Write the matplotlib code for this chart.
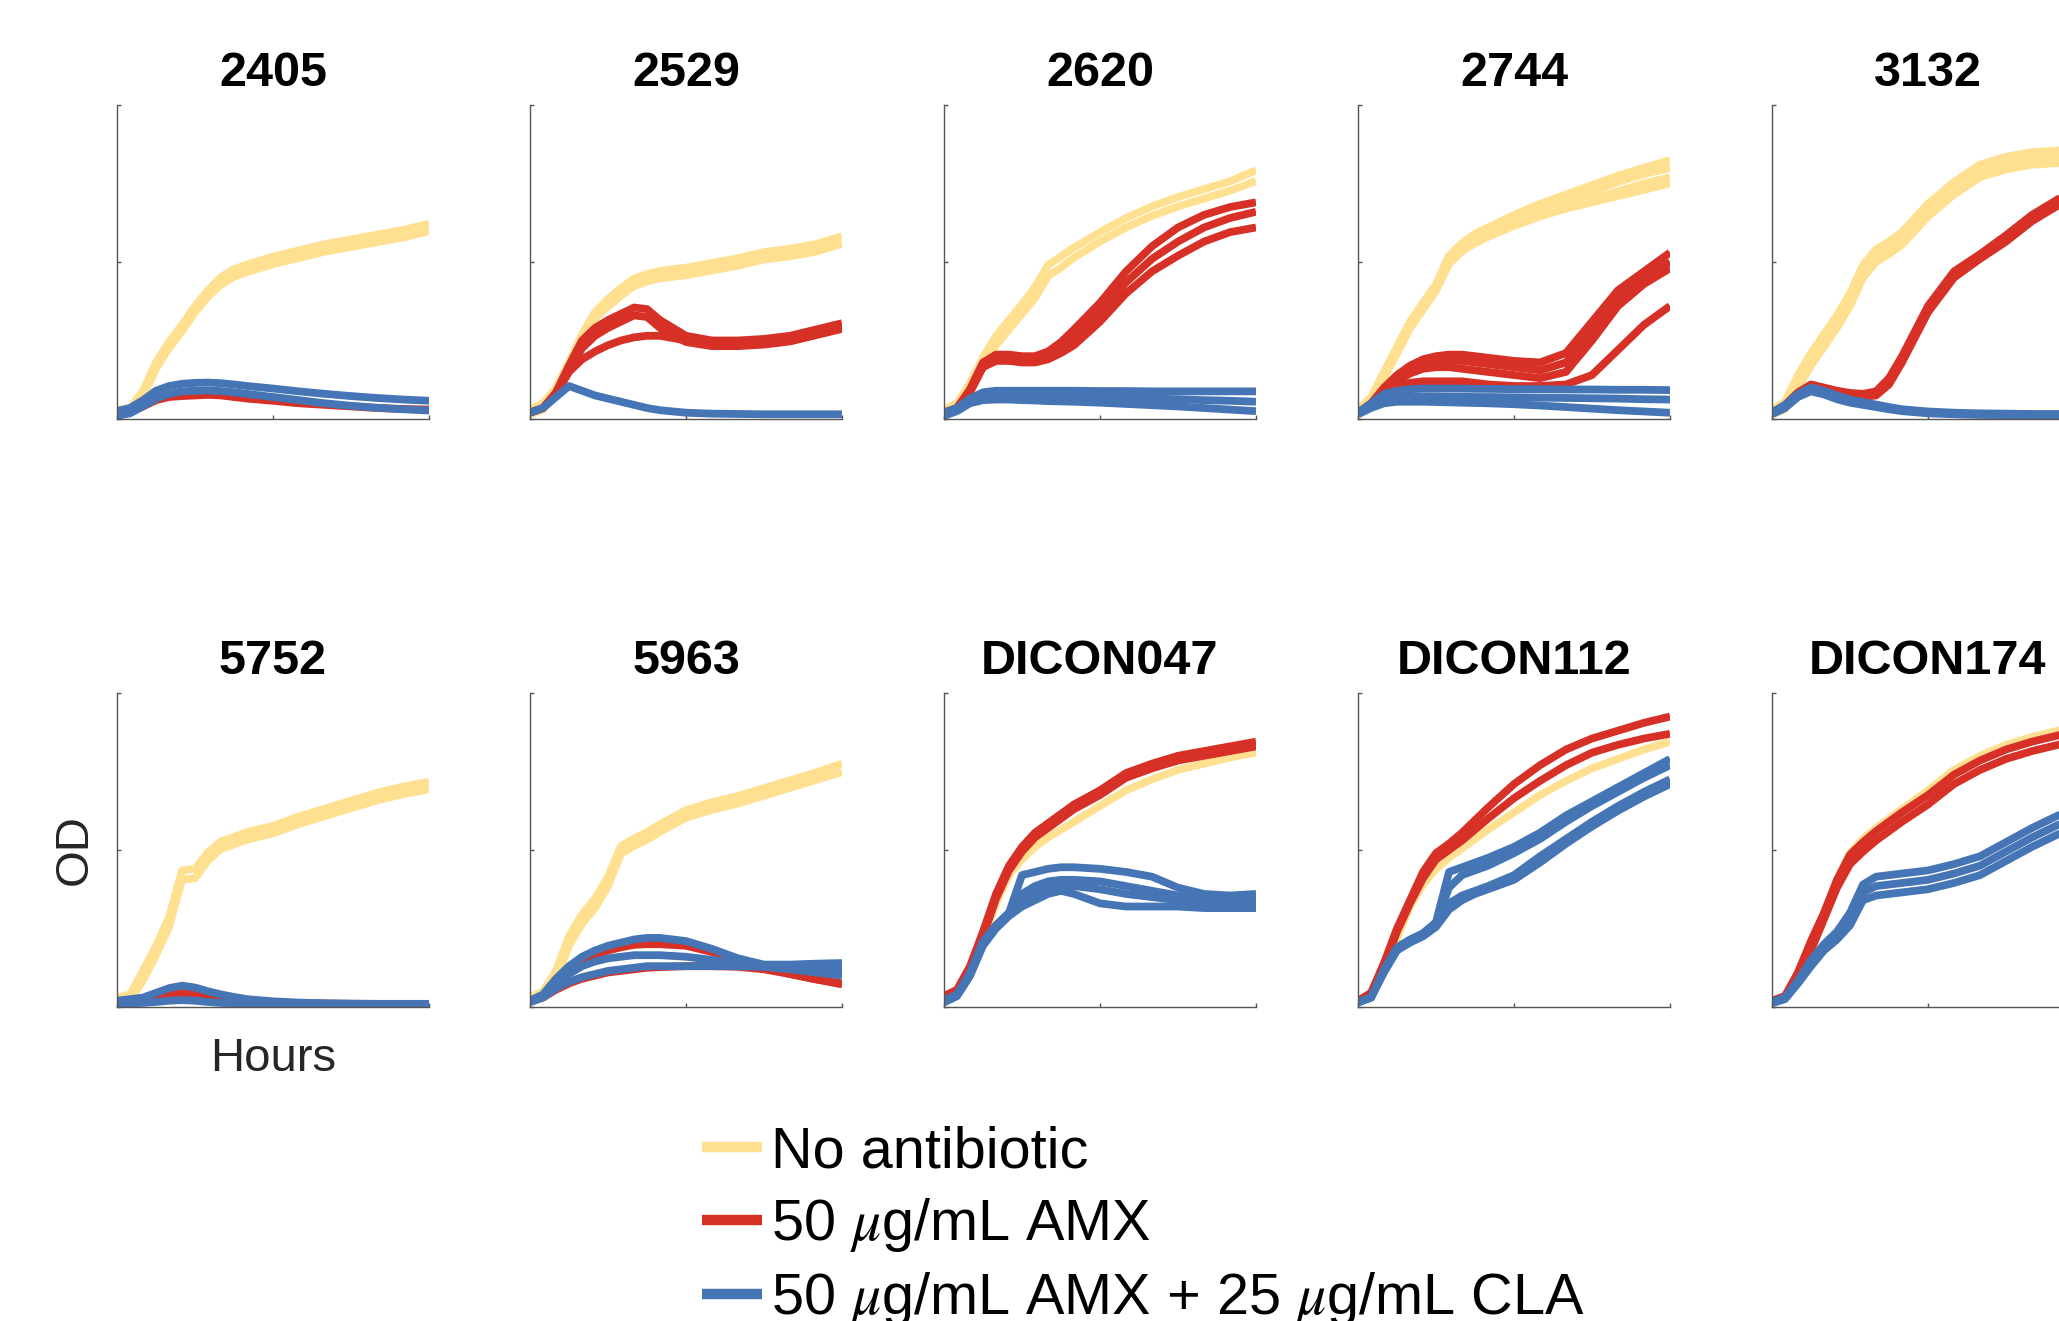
import matplotlib
matplotlib.use("Agg")
import matplotlib.pyplot as plt
from matplotlib.lines import Line2D

plt.rcParams['font.family'] = ['Liberation Sans', 'DejaVu Sans']
plt.rcParams['mathtext.fontset'] = 'stix'

# time points (hours) shared by every replicate curve
hours = [0, 1, 2, 3, 4, 5, 6, 7, 8, 9, 10, 12, 14, 16, 18, 20, 22, 24]

# --- 2405 ---
s2405_none = [[0.03, 0.035, 0.09, 0.18, 0.245, 0.30, 0.36, 0.41, 0.452, 0.477, 0.492, 0.517, 0.537, 0.557, 0.572, 0.587, 0.602, 0.622],
              [0.015, 0.02, 0.07, 0.16, 0.225, 0.28, 0.34, 0.39, 0.428, 0.453, 0.468, 0.493, 0.513, 0.533, 0.548, 0.563, 0.578, 0.598]]
s2405_amx = [[0.02, 0.025, 0.04, 0.06, 0.07, 0.073, 0.075, 0.077, 0.075, 0.07, 0.065, 0.058, 0.05, 0.045, 0.04, 0.035, 0.032, 0.03]]
s2405_cla = [[0.025, 0.035, 0.06, 0.09, 0.105, 0.112, 0.115, 0.116, 0.114, 0.11, 0.105, 0.097, 0.088, 0.08, 0.073, 0.067, 0.062, 0.058],
             [0.01, 0.018, 0.04, 0.065, 0.08, 0.088, 0.09, 0.091, 0.089, 0.085, 0.08, 0.07, 0.06, 0.05, 0.042, 0.036, 0.031, 0.027]]

# --- 2529 ---
s2529_none = [[0.03, 0.05, 0.10, 0.18, 0.27, 0.34, 0.382, 0.417, 0.447, 0.462, 0.472, 0.482, 0.497, 0.512, 0.532, 0.542, 0.557, 0.582],
              [0.015, 0.03, 0.08, 0.16, 0.25, 0.32, 0.358, 0.393, 0.423, 0.438, 0.448, 0.458, 0.473, 0.488, 0.508, 0.518, 0.533, 0.558]]
s2529_amx = [[0.02, 0.035, 0.085, 0.17, 0.25, 0.29, 0.315, 0.335, 0.355, 0.35, 0.315, 0.265, 0.25, 0.25, 0.255, 0.265, 0.285, 0.305],
             [0.02, 0.035, 0.08, 0.155, 0.225, 0.265, 0.29, 0.31, 0.33, 0.325, 0.29, 0.245, 0.232, 0.232, 0.237, 0.247, 0.267, 0.287],
             [0.02, 0.035, 0.08, 0.15, 0.19, 0.215, 0.235, 0.25, 0.26, 0.265, 0.265, 0.25, 0.24, 0.24, 0.245, 0.255, 0.27, 0.29]]
s2529_cla = [[0.02, 0.035, 0.07, 0.105, 0.09, 0.075, 0.065, 0.055, 0.045, 0.035, 0.028, 0.02, 0.017, 0.016, 0.015, 0.015, 0.015, 0.015]]

# --- 2620 ---
s2620_none = [[0.03, 0.05, 0.115, 0.195, 0.265, 0.315, 0.365, 0.42, 0.49, 0.518, 0.546, 0.595, 0.64, 0.677, 0.707, 0.732, 0.757, 0.792],
              [0.015, 0.03, 0.09, 0.165, 0.235, 0.285, 0.335, 0.385, 0.455, 0.482, 0.514, 0.565, 0.61, 0.647, 0.677, 0.702, 0.727, 0.758]]
s2620_amx = [[0.02, 0.035, 0.095, 0.18, 0.205, 0.205, 0.2, 0.2, 0.215, 0.245, 0.285, 0.37, 0.47, 0.55, 0.61, 0.65, 0.675, 0.69],
             [0.02, 0.035, 0.09, 0.175, 0.195, 0.195, 0.19, 0.19, 0.20, 0.225, 0.26, 0.34, 0.435, 0.51, 0.565, 0.61, 0.64, 0.66],
             [0.02, 0.03, 0.085, 0.165, 0.185, 0.185, 0.18, 0.18, 0.19, 0.21, 0.235, 0.31, 0.40, 0.47, 0.52, 0.565, 0.595, 0.61]]
s2620_cla = [[0.02, 0.035, 0.065, 0.085, 0.09, 0.09, 0.09, 0.09, 0.09, 0.09, 0.09, 0.089, 0.089, 0.088, 0.088, 0.088, 0.088, 0.088],
             [0.015, 0.03, 0.055, 0.07, 0.075, 0.075, 0.075, 0.074, 0.073, 0.072, 0.071, 0.069, 0.067, 0.065, 0.063, 0.06, 0.058, 0.055],
             [0.01, 0.025, 0.05, 0.06, 0.062, 0.062, 0.06, 0.059, 0.057, 0.056, 0.055, 0.052, 0.048, 0.044, 0.04, 0.035, 0.03, 0.025]]

# --- 2744 ---
s2744_none = [[0.03, 0.07, 0.15, 0.23, 0.31, 0.37, 0.43, 0.52, 0.56, 0.59, 0.61, 0.65, 0.685, 0.715, 0.745, 0.775, 0.80, 0.825],
              [0.015, 0.05, 0.13, 0.21, 0.29, 0.35, 0.41, 0.50, 0.54, 0.57, 0.59, 0.63, 0.665, 0.695, 0.725, 0.755, 0.78, 0.80],
              [0.015, 0.05, 0.13, 0.21, 0.29, 0.35, 0.41, 0.495, 0.535, 0.565, 0.585, 0.62, 0.65, 0.675, 0.70, 0.725, 0.75, 0.77],
              [0.015, 0.05, 0.13, 0.21, 0.29, 0.35, 0.41, 0.495, 0.535, 0.56, 0.58, 0.615, 0.645, 0.67, 0.69, 0.71, 0.73, 0.75]]
s2744_amx = [[0.02, 0.05, 0.10, 0.14, 0.17, 0.19, 0.20, 0.205, 0.205, 0.20, 0.195, 0.185, 0.18, 0.21, 0.31, 0.41, 0.47, 0.53],
             [0.02, 0.045, 0.095, 0.13, 0.16, 0.175, 0.18, 0.185, 0.185, 0.18, 0.175, 0.165, 0.155, 0.18, 0.28, 0.39, 0.45, 0.50],
             [0.02, 0.045, 0.09, 0.12, 0.145, 0.16, 0.165, 0.165, 0.16, 0.155, 0.15, 0.14, 0.13, 0.15, 0.25, 0.36, 0.43, 0.48],
             [0.02, 0.04, 0.08, 0.105, 0.115, 0.12, 0.12, 0.12, 0.12, 0.115, 0.11, 0.105, 0.105, 0.11, 0.14, 0.22, 0.30, 0.36]]
s2744_cla = [[0.02, 0.05, 0.08, 0.09, 0.095, 0.097, 0.097, 0.097, 0.097, 0.096, 0.096, 0.095, 0.095, 0.094, 0.094, 0.093, 0.093, 0.092],
             [0.02, 0.045, 0.065, 0.07, 0.072, 0.072, 0.072, 0.071, 0.071, 0.07, 0.07, 0.069, 0.068, 0.067, 0.066, 0.065, 0.063, 0.062],
             [0.015, 0.035, 0.05, 0.055, 0.055, 0.055, 0.054, 0.053, 0.052, 0.051, 0.05, 0.047, 0.043, 0.038, 0.033, 0.028, 0.024, 0.02]]

# --- 3132 ---
s3132_none = [[0.03, 0.055, 0.14, 0.21, 0.27, 0.33, 0.40, 0.49, 0.54, 0.565, 0.595, 0.685, 0.755, 0.81, 0.835, 0.85, 0.855, 0.86],
              [0.02, 0.04, 0.12, 0.19, 0.25, 0.31, 0.38, 0.47, 0.52, 0.545, 0.575, 0.665, 0.735, 0.79, 0.815, 0.83, 0.835, 0.84],
              [0.015, 0.03, 0.10, 0.17, 0.23, 0.29, 0.36, 0.45, 0.50, 0.525, 0.555, 0.645, 0.715, 0.77, 0.795, 0.81, 0.815, 0.82]]
s3132_amx = [[0.02, 0.045, 0.085, 0.11, 0.10, 0.09, 0.083, 0.08, 0.088, 0.13, 0.20, 0.36, 0.47, 0.525, 0.585, 0.65, 0.70, 0.735],
             [0.02, 0.04, 0.075, 0.10, 0.09, 0.08, 0.073, 0.07, 0.075, 0.11, 0.18, 0.34, 0.45, 0.51, 0.565, 0.63, 0.68, 0.715]]
s3132_cla = [[0.02, 0.045, 0.08, 0.10, 0.09, 0.075, 0.062, 0.054, 0.046, 0.038, 0.031, 0.024, 0.02, 0.018, 0.017, 0.016, 0.016, 0.016],
             [0.015, 0.035, 0.07, 0.088, 0.078, 0.063, 0.052, 0.045, 0.038, 0.031, 0.025, 0.018, 0.015, 0.013, 0.012, 0.012, 0.012, 0.012]]

# --- 5752 ---
s5752_none = [[0.03, 0.04, 0.115, 0.195, 0.285, 0.435, 0.44, 0.493, 0.527, 0.542, 0.557, 0.577, 0.607, 0.632, 0.657, 0.682, 0.702, 0.717],
              [0.015, 0.02, 0.085, 0.165, 0.255, 0.405, 0.41, 0.467, 0.503, 0.518, 0.533, 0.553, 0.583, 0.608, 0.633, 0.658, 0.678, 0.693]]
s5752_amx = [[0.02, 0.02, 0.025, 0.03, 0.04, 0.045, 0.042, 0.035, 0.028, 0.022, 0.018, 0.014, 0.012, 0.011, 0.01, 0.01, 0.01, 0.01]]
s5752_cla = [[0.02, 0.025, 0.03, 0.045, 0.06, 0.068, 0.062, 0.05, 0.04, 0.032, 0.025, 0.018, 0.014, 0.012, 0.011, 0.01, 0.01, 0.01],
             [0.012, 0.012, 0.013, 0.016, 0.02, 0.022, 0.02, 0.016, 0.013, 0.012, 0.011, 0.01, 0.009, 0.009, 0.009, 0.009, 0.009, 0.009]]

# --- 5963 ---
s5963_none = [[0.03, 0.05, 0.115, 0.225, 0.295, 0.345, 0.415, 0.512, 0.537, 0.557, 0.582, 0.627, 0.652, 0.672, 0.697, 0.722, 0.747, 0.775],
              [0.015, 0.03, 0.085, 0.195, 0.265, 0.315, 0.385, 0.488, 0.513, 0.533, 0.558, 0.603, 0.628, 0.648, 0.673, 0.698, 0.723, 0.748]]
s5963_amx = [[0.02, 0.035, 0.075, 0.11, 0.14, 0.165, 0.18, 0.19, 0.198, 0.20, 0.20, 0.195, 0.175, 0.15, 0.125, 0.105, 0.088, 0.075],
             [0.02, 0.03, 0.055, 0.075, 0.09, 0.10, 0.11, 0.115, 0.12, 0.125, 0.127, 0.13, 0.13, 0.128, 0.12, 0.105, 0.088, 0.072]]
s5963_cla = [[0.02, 0.04, 0.09, 0.13, 0.16, 0.18, 0.195, 0.205, 0.215, 0.22, 0.22, 0.21, 0.185, 0.155, 0.135, 0.135, 0.138, 0.14],
             [0.02, 0.035, 0.075, 0.105, 0.13, 0.145, 0.155, 0.16, 0.165, 0.165, 0.165, 0.16, 0.15, 0.14, 0.13, 0.125, 0.122, 0.12],
             [0.015, 0.03, 0.06, 0.08, 0.095, 0.105, 0.115, 0.12, 0.125, 0.13, 0.13, 0.13, 0.13, 0.13, 0.128, 0.12, 0.11, 0.10]]

# --- DICON047 ---
d047_none = [[0.02, 0.04, 0.11, 0.21, 0.33, 0.42, 0.47, 0.51, 0.54, 0.565, 0.59, 0.64, 0.69, 0.725, 0.755, 0.775, 0.795, 0.81]]
d047_amx = [[0.035, 0.055, 0.13, 0.24, 0.36, 0.45, 0.51, 0.555, 0.585, 0.615, 0.645, 0.69, 0.745, 0.775, 0.80, 0.815, 0.83, 0.845],
            [0.025, 0.045, 0.115, 0.225, 0.345, 0.435, 0.495, 0.54, 0.57, 0.6, 0.63, 0.675, 0.73, 0.76, 0.785, 0.80, 0.815, 0.83]]
d047_cla = [[0.02, 0.04, 0.11, 0.21, 0.26, 0.30, 0.42, 0.43, 0.44, 0.445, 0.445, 0.44, 0.43, 0.415, 0.38, 0.36, 0.355, 0.36],
            [0.02, 0.04, 0.105, 0.205, 0.26, 0.30, 0.36, 0.385, 0.40, 0.405, 0.405, 0.40, 0.385, 0.37, 0.355, 0.345, 0.34, 0.345],
            [0.015, 0.035, 0.10, 0.20, 0.255, 0.295, 0.34, 0.365, 0.38, 0.385, 0.385, 0.375, 0.36, 0.35, 0.34, 0.335, 0.33, 0.33],
            [0.015, 0.035, 0.10, 0.195, 0.25, 0.29, 0.32, 0.34, 0.36, 0.37, 0.36, 0.33, 0.32, 0.32, 0.32, 0.315, 0.315, 0.315]]

# --- DICON112 ---
d112_none = [[0.02, 0.04, 0.12, 0.22, 0.32, 0.39, 0.44, 0.475, 0.505, 0.535, 0.565, 0.62, 0.675, 0.72, 0.76, 0.79, 0.82, 0.845]]
d112_amx = [[0.02, 0.045, 0.14, 0.25, 0.34, 0.43, 0.49, 0.52, 0.555, 0.595, 0.635, 0.71, 0.77, 0.82, 0.855, 0.88, 0.905, 0.925],
            [0.02, 0.04, 0.13, 0.24, 0.33, 0.41, 0.47, 0.50, 0.53, 0.565, 0.60, 0.665, 0.72, 0.77, 0.81, 0.835, 0.855, 0.87]]
d112_cla = [[0.015, 0.03, 0.12, 0.19, 0.215, 0.235, 0.27, 0.43, 0.445, 0.46, 0.475, 0.51, 0.555, 0.61, 0.655, 0.70, 0.745, 0.79],
            [0.015, 0.03, 0.115, 0.185, 0.21, 0.23, 0.265, 0.38, 0.42, 0.435, 0.45, 0.49, 0.535, 0.59, 0.64, 0.685, 0.73, 0.77],
            [0.015, 0.03, 0.115, 0.185, 0.21, 0.23, 0.26, 0.33, 0.355, 0.37, 0.385, 0.42, 0.48, 0.535, 0.59, 0.64, 0.685, 0.725],
            [0.015, 0.03, 0.11, 0.18, 0.205, 0.225, 0.255, 0.31, 0.34, 0.36, 0.375, 0.405, 0.46, 0.52, 0.575, 0.625, 0.67, 0.71]]

# --- DICON174 ---
d174_none = [[0.02, 0.035, 0.11, 0.21, 0.30, 0.405, 0.49, 0.535, 0.57, 0.60, 0.63, 0.69, 0.755, 0.80, 0.835, 0.86, 0.88, 0.895]]
d174_amx = [[0.02, 0.035, 0.11, 0.21, 0.30, 0.405, 0.485, 0.525, 0.56, 0.59, 0.62, 0.675, 0.74, 0.785, 0.82, 0.845, 0.865, 0.88],
            [0.015, 0.03, 0.09, 0.18, 0.28, 0.38, 0.455, 0.495, 0.53, 0.56, 0.59, 0.645, 0.71, 0.755, 0.79, 0.815, 0.835, 0.85]]
d174_cla = [[0.015, 0.03, 0.085, 0.15, 0.20, 0.24, 0.30, 0.39, 0.415, 0.42, 0.425, 0.435, 0.455, 0.48, 0.525, 0.57, 0.61, 0.64],
            [0.015, 0.03, 0.08, 0.14, 0.19, 0.23, 0.28, 0.365, 0.385, 0.39, 0.395, 0.405, 0.425, 0.45, 0.495, 0.54, 0.58, 0.61],
            [0.012, 0.025, 0.075, 0.13, 0.18, 0.215, 0.26, 0.34, 0.355, 0.36, 0.365, 0.375, 0.395, 0.42, 0.465, 0.51, 0.55, 0.58]]

strains = ['2405', '2529', '2620', '2744', '3132',
           '5752', '5963', 'DICON047', 'DICON112', 'DICON174']
none_data = [s2405_none, s2529_none, s2620_none, s2744_none, s3132_none,
             s5752_none, s5963_none, d047_none, d112_none, d174_none]
amx_data = [s2405_amx, s2529_amx, s2620_amx, s2744_amx, s3132_amx,
            s5752_amx, s5963_amx, d047_amx, d112_amx, d174_amx]
cla_data = [s2405_cla, s2529_cla, s2620_cla, s2744_cla, s3132_cla,
            s5752_cla, s5963_cla, d047_cla, d112_cla, d174_cla]

labels = ['No antibiotic', r'50 $\mu$g/mL AMX', r'50 $\mu$g/mL AMX + 25 $\mu$g/mL CLA']
colors = ['#FEE090', '#D73027', '#4575B4']

W, H = 2059, 1321
fig = plt.figure(figsize=(W / 100, H / 100), dpi=100)

col_left = [117, 530, 944, 1358, 1772]
row_top = [105, 693]
ax_w, ax_h = 312, 314

for i, name in enumerate(strains):
    r, c = divmod(i, 5)
    ax = fig.add_axes([col_left[c] / W, 1 - (row_top[r] + ax_h) / H, ax_w / W, ax_h / H])
    for reps, col in zip([none_data[i], amx_data[i], cla_data[i]], colors):
        for y in reps:
            ax.plot(hours, y, color=col, lw=5.6, solid_capstyle='butt', solid_joinstyle='round')
    ax.set_xlim(0, 24)
    ax.set_ylim(0, 1)
    ax.set_xticks([0, 12, 24])
    ax.set_yticks([0, 0.5, 1])
    ax.set_xticklabels([])
    ax.set_yticklabels([])
    ax.tick_params(direction='in', length=3, width=1, colors='#555555')
    for s in ['top', 'right']:
        ax.spines[s].set_visible(False)
    for s in ['left', 'bottom']:
        ax.spines[s].set_color('#555555')
        ax.spines[s].set_linewidth(1.0)
    ax.set_title(name, fontsize=35, fontweight='bold', pad=14)
    if i == 5:
        ax.set_xlabel('Hours', fontsize=34, color='#262626', labelpad=18)
        ax.set_ylabel('OD', fontsize=34, color='#262626', labelpad=11)

handles = [Line2D([], [], color=c, lw=7.5, solid_capstyle='butt') for c in colors]
fig.legend(handles, labels, loc='upper left', bbox_to_anchor=(702 / W, 1 - 1125 / H),
           frameon=False, fontsize=41.5, handlelength=1.04, handletextpad=0.15,
           labelspacing=0.29, borderpad=0, borderaxespad=0)

fig.savefig('out.png', dpi=100)
